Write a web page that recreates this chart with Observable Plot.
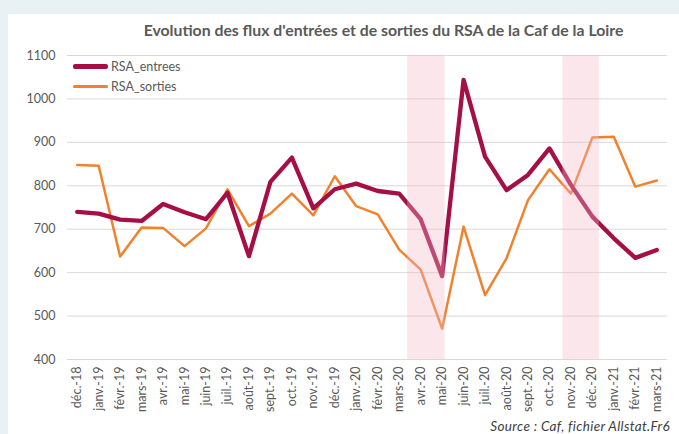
<!DOCTYPE html>
<html>
<head>
<meta charset="utf-8">
<script src="https://cdn.jsdelivr.net/npm/d3@7"></script>
<script src="https://cdn.jsdelivr.net/npm/@observablehq/plot@0.6"></script>
<style>
  html, body { margin: 0; padding: 0; }
  body { width: 679px; height: 434px; overflow: hidden; font-family: Lato, "Open Sans", sans-serif; }
  #wrap { position: relative; width: 679px; height: 434px; background: #e8f1f4; }
  #panel { position: absolute; left: 8px; top: 14px; right: 0; bottom: 0; background: #fff; }
  #title { position: absolute; left: 113px; top: 20px; width: 541px; text-align: center; font-weight: bold; font-size: 15.8px; color: #595959; white-space: nowrap; }
  #chart { position: absolute; left: 0; top: 40px; }
  .leg { position: absolute; left: 73px; font-size: 12.5px; color: #595959; display: flex; align-items: center; }
  .leg span.sw { display: inline-block; width: 35px; margin-right: 3px; border-radius: 2px; }
  #source { position: absolute; right: 9px; top: 418px; font-size: 13.5px; letter-spacing: 0.35px; font-style: italic; color: #404040; }
</style>
</head>
<body>
<div id="wrap">
  <div id="panel"></div>
  <div id="title">Evolution des flux d'entrées et de sorties du RSA de la Caf de la Loire</div>
  <div id="chart"></div>
  <div class="leg" style="top:59px"><span class="sw" style="height:4.3px;background:#a50f45"></span>RSA_entrees</div>
  <div class="leg" style="top:79px"><span class="sw" style="height:2.5px;background:#f0822d"></span>RSA_sorties</div>
  <div id="source">Source : Caf, fichier Allstat.Fr6</div>
</div>
<script>
const months = ["déc.-18","janv.-19","févr.-19","mars-19","avr.-19","mai-19","juin-19","juil.-19","août-19","sept.-19","oct.-19","nov.-19","déc.-19","janv.-20","févr.-20","mars-20","avr.-20","mai-20","juin-20","juil.-20","août-20","sept.-20","oct.-20","nov.-20","déc.-20","janv.-21","févr.-21","mars-21"];
const entrees = [740,736,722,719,758,739,723,784,638,809,865,748,792,805,788,782,723,592,1044,867,790,825,886,802,729,679,634,652];
const sorties = [848,846,637,704,703,661,702,792,707,736,782,732,822,753,734,653,607,471,706,548,633,767,838,782,911,913,798,812];
const yTicks = [400,500,600,700,800,900,1000,1100];
const band1 = {start: "avr.-20", end: "mai-20"};
const band2 = {start: "nov.-20", end: "déc.-20"};

const rowsE = months.map((m, i) => ({month: m, value: entrees[i]}));
const rowsS = months.map((m, i) => ({month: m, value: sorties[i]}));

const chart = Plot.plot({
  width: 679,
  height: 380,
  marginLeft: 66,
  marginRight: 12,
  marginTop: 15,
  marginBottom: 61,
  style: {fontFamily: "Lato, 'Open Sans', sans-serif", background: "transparent", color: "#595959"},
  x: {type: "point", domain: months, padding: 0.5, round: false, label: null},
  y: {domain: [400, 1100], label: null},
  marks: [
    Plot.ruleY(yTicks, {stroke: "#d9d9d9", strokeWidth: 1, insetLeft: 1}),
    Plot.line(rowsS, {x: "month", y: "value", stroke: "#f0822d", strokeWidth: 2.5, strokeLinejoin: "round"}),
    Plot.line(rowsE, {x: "month", y: "value", stroke: "#a50f45", strokeWidth: 4.3, strokeLinejoin: "round", strokeLinecap: "round"}),
    Plot.rect([band1], {x1: "start", x2: "end", fill: "#f4b6c9", fillOpacity: 0.35, insetLeft: -13, insetRight: -3}),
    Plot.rect([band2], {x1: "start", x2: "end", fill: "#f4b6c9", fillOpacity: 0.35, insetLeft: -8, insetRight: -7}),
    Plot.axisY(yTicks, {tickSize: 0, tickPadding: 11, fontSize: 12.5, fill: "#595959", tickFormat: d => String(d)}),
    Plot.axisX(months, {tickSize: 0, tickPadding: 7, tickRotate: -90, fontSize: 12.5, fill: "#595959"})
  ]
});
document.getElementById("chart").appendChild(chart);
</script>
</body>
</html>
